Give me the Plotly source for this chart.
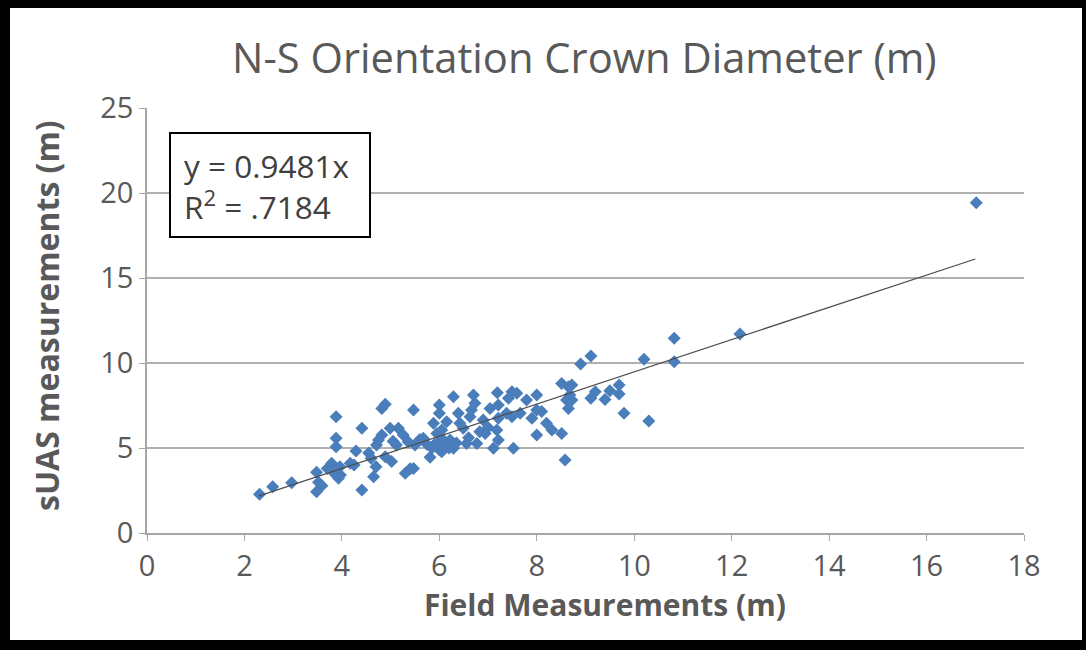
import plotly.graph_objects as go

# Data
field_x = [2.31, 2.58, 2.97, 3.48, 3.52, 3.59, 3.48, 3.88, 3.88, 3.88, 3.79, 3.81, 3.96, 3.93, 3.97,
           4.17, 4.29, 4.41, 4.41, 4.65, 4.70, 4.71, 4.75, 4.82, 4.89, 4.82, 4.89, 4.99, 5.02, 5.16,
           5.12, 5.26, 5.30, 5.47, 5.47, 5.36, 5.50, 5.40, 5.67, 5.81, 5.88, 6.00, 6.00, 5.95, 6.05,
           5.98, 6.08, 6.05, 6.15, 6.22, 6.15, 6.29, 6.29, 6.39, 6.42, 6.49, 6.56, 6.63, 6.66, 6.70,
           6.73, 6.77, 6.83, 6.90, 6.94, 7.04, 7.11, 7.18, 7.19, 7.21, 7.21, 7.21, 7.38, 7.42, 7.49,
           7.59, 7.49, 7.52, 7.66, 7.79, 7.90, 8.00, 8.00, 8.00, 8.10, 8.20, 8.31, 8.51, 8.58, 8.51,
           8.65, 8.61, 8.65, 8.68, 10.82, 10.82, 10.20, 9.11, 8.90, 8.72, 8.72, 9.11, 9.20, 9.40,
           9.50, 9.69, 9.69, 9.79, 10.30, 12.17, 17.02,
           5.85, 5.90, 6.00, 6.10, 6.20, 5.75, 4.55, 4.60, 5.05, 5.60, 6.35, 6.60, 7.00, 4.25, 3.70]
suas_y = [2.28, 2.72, 2.96, 3.57, 2.98, 2.78, 2.43, 6.84, 5.57, 5.08, 4.10, 3.61, 3.90, 3.22, 3.41,
          4.10, 4.82, 6.16, 2.53, 3.31, 3.90, 5.18, 5.47, 7.33, 7.57, 5.76, 4.49, 6.16, 4.20, 6.16,
          5.18, 5.76, 3.51, 3.80, 7.24, 5.37, 5.18, 3.78, 5.57, 4.45, 6.45, 7.53, 7.04, 5.86, 6.06,
          5.27, 5.47, 4.78, 5.08, 5.47, 6.55, 8.02, 4.98, 7.04, 6.45, 6.16, 5.27, 6.84, 7.24, 8.12,
          7.63, 5.27, 5.96, 6.65, 5.86, 7.33, 4.98, 6.06, 8.25, 7.53, 6.75, 5.47, 7.04, 7.92, 8.31,
          8.22, 6.84, 4.98, 7.04, 7.82, 6.75, 8.12, 7.24, 5.76, 7.14, 6.45, 6.06, 5.86, 4.29, 8.80,
          8.61, 7.82, 7.33, 8.12, 11.45, 10.08, 10.22, 10.41, 9.94, 8.71, 7.82, 7.92, 8.31, 7.86,
          8.37, 8.71, 8.18, 7.04, 6.59, 11.70, 19.43,
          5.00, 5.20, 4.90, 5.30, 5.00, 5.20, 4.70, 4.40, 5.40, 5.50, 5.30, 5.60, 6.20, 4.00, 3.80]

slope = 0.9481
trend_x = [2.3, 17.0]
trend_y = [slope * v for v in trend_x]

x_ticks = [0, 2, 4, 6, 8, 10, 12, 14, 16, 18]
y_ticks = [0, 5, 10, 15, 20, 25]

title_text = "N-S Orientation Crown Diameter (m)"
x_title = "Field Measurements (m)"
y_title = "sUAS measurements (m)"
eq_text = "y = 0.9481x<br>R<sup>2</sup> = .7184"

W, H = 1086, 650
L, R, T, B = 147, 1024, 108, 533  # plot area in px


def px_to_paper_x(px):
    return (px - L) / (R - L)


def px_to_paper_y(py):
    return (B - py) / (B - T)


FONT = "Open Sans"

fig = go.Figure()

fig.add_trace(go.Scatter(
    x=field_x, y=suas_y, mode="markers",
    marker=dict(symbol="diamond", size=10, color="#4A7EBB", line=dict(width=0)),
    showlegend=False, hoverinfo="x+y",
))
fig.add_trace(go.Scatter(
    x=trend_x, y=trend_y, mode="lines",
    line=dict(color="#4d4d4d", width=1.3),
    showlegend=False, hoverinfo="skip",
))

# white card inside black frame
fig.add_shape(type="rect", xref="paper", yref="paper",
              x0=px_to_paper_x(10), x1=px_to_paper_x(1082),
              y0=px_to_paper_y(640), y1=px_to_paper_y(8),
              fillcolor="white", line=dict(width=0), layer="below")

# equation box
fig.add_shape(type="rect", xref="paper", yref="paper",
              x0=px_to_paper_x(170), x1=px_to_paper_x(370),
              y0=px_to_paper_y(237), y1=px_to_paper_y(133),
              fillcolor="white", line=dict(color="black", width=2), layer="above")
fig.add_annotation(text=eq_text, xref="paper", yref="paper",
                   x=px_to_paper_x(182), y=px_to_paper_y(186),
                   xanchor="left", yanchor="middle", align="left", showarrow=False,
                   font=dict(family=FONT, size=31.5, color="#404040"))

# titles
fig.add_annotation(text=title_text, xref="paper", yref="paper",
                   x=px_to_paper_x(584), y=px_to_paper_y(56),
                   xanchor="center", yanchor="middle", showarrow=False,
                   font=dict(family=FONT, size=41.7, color="#595959"))
fig.add_annotation(text=x_title, xref="paper", yref="paper",
                   x=px_to_paper_x(605), y=px_to_paper_y(604),
                   xanchor="center", yanchor="middle", showarrow=False,
                   font=dict(family=FONT, size=30, color="#595959", weight="bold"))
fig.add_annotation(text=y_title, xref="paper", yref="paper",
                   x=px_to_paper_x(46), y=px_to_paper_y(316),
                   xanchor="center", yanchor="middle", showarrow=False, textangle=-90,
                   font=dict(family=FONT, size=32, color="#595959", weight="bold"))

fig.update_xaxes(range=[0, 18], tickvals=x_ticks, showgrid=False, zeroline=False,
                 showline=True, linecolor="#A6A6A6", linewidth=1.5,
                 ticks="outside", ticklen=6, tickcolor="#A6A6A6",
                 tickfont=dict(family=FONT, size=29, color="#595959"), fixedrange=True)
fig.update_yaxes(range=[0, 25], tickvals=y_ticks, showgrid=True, gridcolor="#B0B0B0",
                 gridwidth=1.5, zeroline=False,
                 showline=True, linecolor="#A6A6A6", linewidth=1.5,
                 ticks="outside", ticklen=6, tickcolor="#A6A6A6",
                 tickfont=dict(family=FONT, size=29, color="#595959"), fixedrange=True)

fig.update_layout(
    width=W, height=H,
    margin=dict(l=L, r=W - R, t=T, b=H - B),
    paper_bgcolor="black", plot_bgcolor="white",
)

fig.write_html(
    "out.html",
    config={"displayModeBar": False},
    post_script="document.body.style.margin='0';document.body.style.background='black';",
)
